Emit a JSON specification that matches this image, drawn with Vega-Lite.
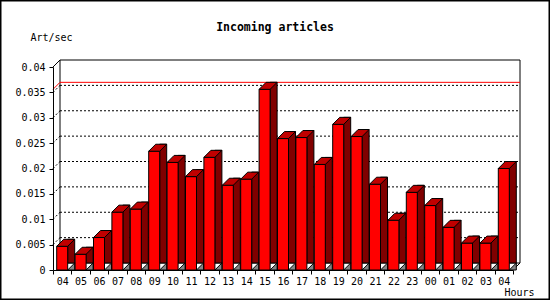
{
  "$schema": "https://vega.github.io/schema/vega-lite/v6.json",
  "width": 550,
  "height": 300,
  "autosize": {"type": "none"},
  "padding": 0,
  "background": "white",
  "title": {"text": "Incoming articles", "font": "DejaVu Sans Mono", "fontSize": 11.5, "fontWeight": "bold", "color": "black", "anchor": "middle", "offset": -39, "baseline": "middle"},
  "datasets": {
    "bars": [
      {"slot": "Mon 04", "rate": 0.00467},
      {"slot": "Mon 05", "rate": 0.0031},
      {"slot": "Mon 06", "rate": 0.0064},
      {"slot": "Mon 07", "rate": 0.0114},
      {"slot": "Mon 08", "rate": 0.0120},
      {"slot": "Mon 09", "rate": 0.0234},
      {"slot": "Mon 10", "rate": 0.0212},
      {"slot": "Mon 11", "rate": 0.0184},
      {"slot": "Mon 12", "rate": 0.0222},
      {"slot": "Mon 13", "rate": 0.0167},
      {"slot": "Mon 14", "rate": 0.0179},
      {"slot": "Mon 15", "rate": 0.0356},
      {"slot": "Mon 16", "rate": 0.0259},
      {"slot": "Mon 17", "rate": 0.0261},
      {"slot": "Mon 18", "rate": 0.0208},
      {"slot": "Mon 19", "rate": 0.0287},
      {"slot": "Mon 20", "rate": 0.0263},
      {"slot": "Mon 21", "rate": 0.0169},
      {"slot": "Mon 22", "rate": 0.0098},
      {"slot": "Mon 23", "rate": 0.0153},
      {"slot": "Tue 00", "rate": 0.0127},
      {"slot": "Tue 01", "rate": 0.0084},
      {"slot": "Tue 02", "rate": 0.0053},
      {"slot": "Tue 03", "rate": 0.0053},
      {"slot": "Tue 04", "rate": 0.0200}
    ],
    "grid": [{"level": 0.005}, {"level": 0.01}, {"level": 0.015}, {"level": 0.02}, {"level": 0.025}, {"level": 0.03}, {"level": 0.035}],
    "peak": [{"level": 0.0356}],
    "frame": [{"floor": 0, "ceiling": 0.04}]
  },
  "layer": [
    {
      "data": {"name": "bars"},
      "mark": {"type": "bar", "width": 11, "fill": "#ff0000", "stroke": "black", "strokeWidth": 1, "opacity": 0},
      "encoding": {
        "x": {"field": "slot", "type": "nominal", "scale": {"type": "band", "domain": ["Mon 04","Mon 05","Mon 06","Mon 07","Mon 08","Mon 09","Mon 10","Mon 11","Mon 12","Mon 13","Mon 14","Mon 15","Mon 16","Mon 17","Mon 18","Mon 19","Mon 20","Mon 21","Mon 22","Mon 23","Tue 00","Tue 01","Tue 02","Tue 03","Tue 04"], "range": [53, 513], "paddingInner": 0, "paddingOuter": 0},
          "axis": {"orient": "bottom", "offset": -30, "zindex": 1, "tickBand": "extent", "tickSize": 4, "labelPadding": 2, "labelAngle": 0, "labelOverlap": false, "labelExpr": "slice(datum.label, -2)", "title": "Hours", "titleX": 504, "titleY": 22, "titleAlign": "left", "titleBaseline": "middle", "grid": false}},
        "y": {"field": "rate", "type": "quantitative", "scale": {"domain": [0, 0.04], "range": [270, 67], "nice": false, "zero": true},
          "axis": {"orient": "left", "offset": -53, "zindex": 1, "values": [0, 0.005, 0.01, 0.015, 0.02, 0.025, 0.03, 0.035, 0.04], "tickCount": 20, "labelExpr": "format(datum.value, '~g')", "labelOverlap": false, "labelBound": false, "tickSize": 4, "labelPadding": 4, "grid": false, "title": "Art/sec", "titleAngle": 0, "titleX": -23, "titleY": 37, "titleAlign": "left", "titleBaseline": "middle"}}
      }
    },
    {
      "data": {"name": "frame"},
      "mark": {"type": "rule", "color": "black", "strokeWidth": 1, "xOffset": -2.2, "x2Offset": 16.2, "yOffset": -7},
      "encoding": {
        "x": {"datum": "Mon 04", "type": "nominal"},
        "x2": {"datum": "Tue 04"},
        "y": {"field": "ceiling", "type": "quantitative"}
      }
    },
    {
      "data": {"name": "frame"},
      "mark": {"type": "rule", "color": "black", "strokeWidth": 1, "xOffset": -2.2, "yOffset": -7, "y2Offset": -7},
      "encoding": {
        "x": {"datum": "Mon 04", "type": "nominal"},
        "y": {"field": "floor", "type": "quantitative"},
        "y2": {"field": "ceiling"}
      }
    },
    {
      "data": {"name": "frame"},
      "mark": {"type": "rule", "color": "black", "strokeWidth": 1, "xOffset": 16.2, "yOffset": -7, "y2Offset": -7},
      "encoding": {
        "x": {"datum": "Tue 04", "type": "nominal"},
        "y": {"field": "floor", "type": "quantitative"},
        "y2": {"field": "ceiling"}
      }
    },
    {
      "data": {"name": "frame"},
      "mark": {"type": "rule", "color": "black", "strokeWidth": 1, "xOffset": -2.2, "x2Offset": 16.2, "yOffset": -7},
      "encoding": {
        "x": {"datum": "Mon 04", "type": "nominal"},
        "x2": {"datum": "Tue 04"},
        "y": {"field": "floor", "type": "quantitative"}
      }
    },
    {
      "data": {"name": "grid"},
      "mark": {"type": "rule", "color": "black", "strokeWidth": 1, "strokeDash": [2, 2], "xOffset": -2.2, "x2Offset": 16.2, "yOffset": -7},
      "encoding": {
        "x": {"datum": "Mon 04", "type": "nominal"},
        "x2": {"datum": "Tue 04"},
        "y": {"field": "level", "type": "quantitative"}
      }
    },
    {
      "data": {"name": "grid"},
      "mark": {"type": "rule", "color": "black", "strokeWidth": 1, "strokeDash": [2, 2], "xOffset": -9.2, "x2Offset": -2.2, "y2Offset": -7},
      "encoding": {
        "x": {"datum": "Mon 04", "type": "nominal"},
        "x2": {"datum": "Mon 04"},
        "y": {"field": "level", "type": "quantitative"},
        "y2": {"field": "level"}
      }
    },
    {
      "data": {"name": "peak"},
      "mark": {"type": "rule", "color": "#ff0000", "strokeWidth": 1, "xOffset": -2.2, "x2Offset": 16.2, "yOffset": -7},
      "encoding": {
        "x": {"datum": "Mon 04", "type": "nominal"},
        "x2": {"datum": "Tue 04"},
        "y": {"field": "level", "type": "quantitative"}
      }
    },
    {
      "data": {"name": "peak"},
      "mark": {"type": "rule", "color": "#ff0000", "strokeWidth": 1, "xOffset": -9.2, "x2Offset": -2.2, "y2Offset": -7},
      "encoding": {
        "x": {"datum": "Mon 04", "type": "nominal"},
        "x2": {"datum": "Mon 04"},
        "y": {"field": "level", "type": "quantitative"},
        "y2": {"field": "level"}
      }
    },
    {
      "data": {"name": "frame"},
      "mark": {"type": "rule", "color": "black", "strokeWidth": 1, "xOffset": -9.2, "x2Offset": -2.2, "y2Offset": -7},
      "encoding": {
        "x": {"datum": "Mon 04", "type": "nominal"},
        "x2": {"datum": "Mon 04"},
        "y": {"field": "ceiling", "type": "quantitative"},
        "y2": {"field": "ceiling"}
      }
    },
    {
      "data": {"name": "frame"},
      "mark": {"type": "rule", "color": "black", "strokeWidth": 1, "xOffset": 9.2, "x2Offset": 16.2, "y2Offset": -7},
      "encoding": {
        "x": {"datum": "Tue 04", "type": "nominal"},
        "x2": {"datum": "Tue 04"},
        "y": {"field": "floor", "type": "quantitative"},
        "y2": {"field": "floor"}
      }
    },
    {
      "data": {"name": "bars"},
      "mark": {"type": "bar", "width": 7, "xOffset": 9, "yOffset": -7, "fill": "#800000", "stroke": "black", "strokeWidth": 1},
      "encoding": {
        "x": {"field": "slot", "type": "nominal"},
        "y": {"field": "rate", "type": "quantitative"}
      }
    },
    {
      "data": {"name": "bars"},
      "mark": {"type": "point", "shape": "M5.5,0L12.5,0L12.5,-7Z", "size": 4, "filled": true, "fill": "#858585", "stroke": "black", "strokeWidth": 1, "opacity": 1},
      "encoding": {
        "x": {"field": "slot", "type": "nominal"},
        "y": {"datum": 0, "type": "quantitative"}
      }
    },
    {
      "data": {"name": "bars"},
      "mark": {"type": "bar", "width": 11, "fill": "#ff0000", "stroke": "black", "strokeWidth": 1},
      "encoding": {
        "x": {"field": "slot", "type": "nominal"},
        "y": {"field": "rate", "type": "quantitative"}
      }
    },
    {
      "data": {"name": "bars"},
      "mark": {"type": "point", "shape": "M-5.5,0L5.5,0L12.5,-7L1.5,-7Z", "size": 4, "filled": true, "fill": "#c00000", "stroke": "black", "strokeWidth": 1, "opacity": 1},
      "encoding": {
        "x": {"field": "slot", "type": "nominal"},
        "y": {"field": "rate", "type": "quantitative"}
      }
    }
  ],
  "config": {
    "view": {"stroke": "black", "strokeWidth": 3, "fill": "white"},
    "font": "DejaVu Sans Mono",
    "axis": {"domainColor": "black", "tickColor": "black", "labelColor": "black", "titleColor": "black", "labelFont": "DejaVu Sans Mono", "labelFontSize": 10, "titleFont": "DejaVu Sans Mono", "titleFontSize": 10, "titleFontWeight": "normal", "domainWidth": 1, "tickWidth": 1}
  }
}
